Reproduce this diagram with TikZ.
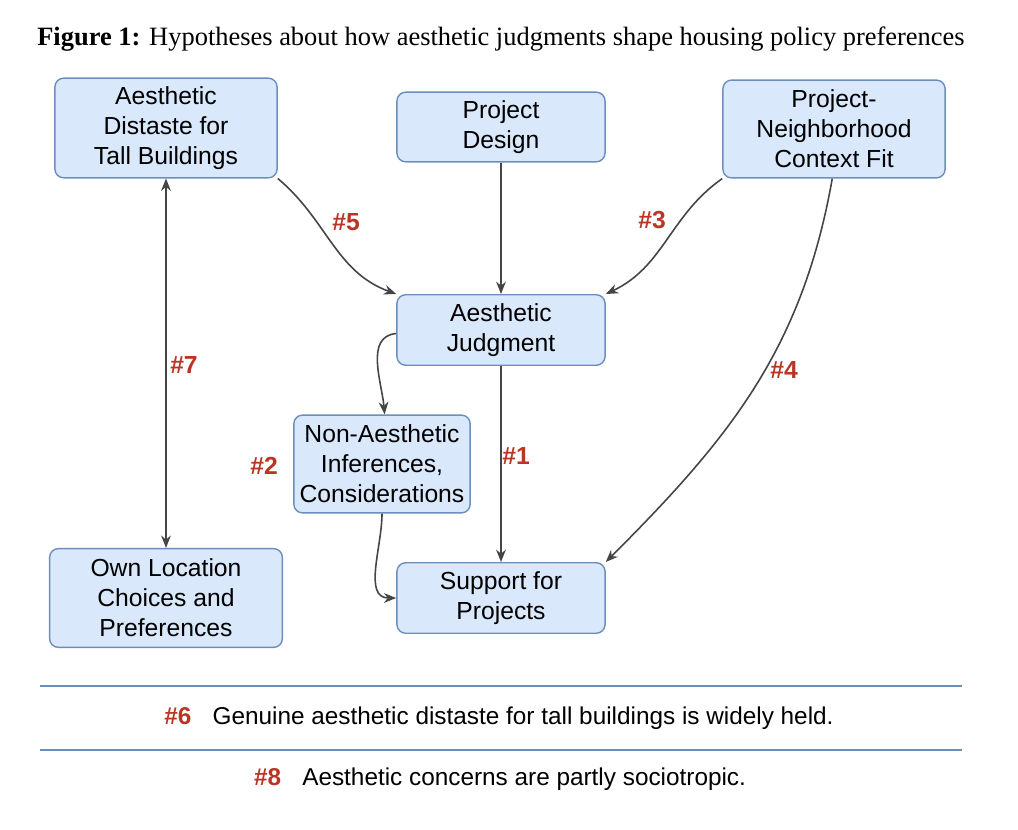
\documentclass[tikz,border=0pt]{standalone}
\usepackage{fontspec}
\setmainfont{Liberation Serif}
\setsansfont{Liberation Sans}
\usetikzlibrary{arrows.meta}

\definecolor{boxfill}{HTML}{DAE8FC}
\definecolor{boxline}{HTML}{6C8EBF}
\definecolor{arrowgray}{HTML}{454545}
\definecolor{hypred}{HTML}{BB3525}

\begin{document}
\begin{tikzpicture}[x=0.567pt,y=-0.567pt,
		hbox/.style={draw=boxline,fill=boxfill,rounded corners=5pt,line width=0.8pt,align=center,
			font=\sffamily\fontsize{14}{17}\selectfont,inner sep=0pt},
		link/.style={draw=arrowgray,line width=0.9pt,-{Stealth[length=7pt,width=5.5pt]}},
		hyp/.style={text=hypred,font=\sffamily\bfseries\fontsize{14}{17}\selectfont},
		note/.style={font=\sffamily\fontsize{13.8}{17}\selectfont}]
		\useasboundingbox (0,0) rectangle (1018,830);
		\node[font=\fontsize{15}{18}\selectfont] (title) at (501,39) {\textbf{Figure 1:} Hypotheses about how aesthetic judgments shape housing policy preferences};

		\node[hbox,minimum width=126pt,minimum height=56.5pt] (distaste) at (166,128) {Aesthetic\\Distaste for\\Tall Buildings};
		\node[hbox,minimum width=118pt,minimum height=39.5pt] (design) at (501,127) {Project\\Design};
		\node[hbox,minimum width=126pt,minimum height=55.5pt] (context) at (834,129) {Project-\\Neighborhood\\Context Fit};
		\node[hbox,minimum width=118pt,minimum height=40pt] (judgment) at (501,330) {Aesthetic\\Judgment};
		\node[hbox,minimum width=100pt,minimum height=55.5pt] (inference) at (382,464) {Non-Aesthetic\\Inferences,\\Considerations};
		\node[hbox,minimum width=132pt,minimum height=56pt] (own) at (166,598) {Own Location\\Choices and\\Preferences};
		\node[hbox,minimum width=118pt,minimum height=40pt] (support) at (501,598) {Support for\\Projects};

		\draw[link] (design) -- (judgment);
		\draw[link] (judgment) -- (support);
		\draw[link] (distaste.south east) to[out=-40,in=160] (judgment.north west);
		\draw[link] (context.south west) to[out=-145,in=25] (judgment.north east);
		\draw[link] ([xshift=-1pt]context.south) to[out=-100,in=45] (support.north east);
		\draw[link] ([yshift=-2pt]judgment.west) to[out=185,in=95] ([xshift=1.5pt]inference.north);
		\draw[link] (inference.south) to[out=-90,in=180] (support.west);
		\draw[link,{Stealth[length=7pt,width=5.5pt]}-{Stealth[length=7pt,width=5.5pt]}] (distaste.south) -- (own.north);

		\node[hyp] (h1) at (516,456) {\#1};
		\node[hyp] (h2) at (264,466) {\#2};
		\node[hyp] (h3) at (652,220) {\#3};
		\node[hyp] (h4) at (784,370) {\#4};
		\node[hyp] (h5) at (346,222) {\#5};
		\node[hyp] (h7) at (184,365) {\#7};

		\draw[boxline,line width=1pt] (40,686) -- (962,686);
		\draw[boxline,line width=1pt] (40,750) -- (962,750);
		\node[note] (h6) at (499,718) {\textcolor{hypred}{\bfseries\#6}\hspace{12pt}Genuine aesthetic distaste for tall buildings is widely held.};
		\node[note] (h8) at (500,779) {\textcolor{hypred}{\bfseries\#8}\hspace{12pt}Aesthetic concerns are partly sociotropic.};
	\end{tikzpicture}
\end{document}
